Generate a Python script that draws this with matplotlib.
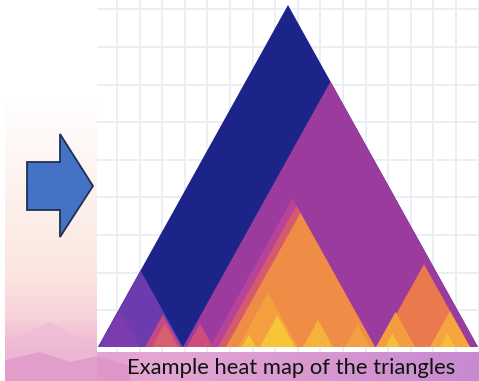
import numpy as np
import matplotlib
matplotlib.use('Agg')
import matplotlib.pyplot as plt
from matplotlib.colors import LinearSegmentedColormap
from matplotlib.patches import Polygon

W, H = 479, 381

# triangle bases along the bottom line (0..380) and their fill colours, drawn in order
tri_left = [0, 85, 0, 2, 47, 54, 89, 112, 120, 128, 140, 162, 205, 144, 247, 280, 278, 332, 287, 342]
tri_right = [380, 380, 85, 42, 83, 80, 115, 277, 277, 277, 200, 197, 235, 158, 272, 372, 317, 372, 302, 357]
tri_color = ['#1c2389', '#9c3b9e', '#6c3bad', '#7d3cae', '#c54a84', '#d6606e', '#cf4d7a',
             '#b8449a', '#d45a6c', '#ef8d47', '#f4a040', '#f7c636', '#f5b23c', '#f7c236',
             '#f3a042', '#ea7a4e', '#f39c42', '#f5a540', '#f7bd3a', '#f7bd3a']
K = 1.8  # apex height / half base

caption = 'Example heat map of the triangles'


def main():
    fig = plt.figure(figsize=(W / 100, H / 100), dpi=100)

    # background: slide gradient, mountains, arrow
    bg = fig.add_axes([0, 0, 1, 1])
    bg.set_xlim(0, W)
    bg.set_ylim(H, 0)
    bg.axis('off')

    vert = LinearSegmentedColormap.from_list('bg', [
        (0.0, '#ffffff'), (0.26, '#ffffff'), (0.5, '#fdf2ee'), (0.72, '#fbe6df'),
        (0.84, '#f7d0da'), (0.92, '#eeb2d2'), (1.0, '#dc8cc4')])
    grad = np.linspace(0, 1, H)[:, None] * np.ones((1, W))
    bg.imshow(grad, cmap=vert, extent=(5, W, H, 0), aspect='auto', zorder=0)

    horiz = LinearSegmentedColormap.from_list('strip', ['#e69fca', '#e3a6d4', '#d798d0', '#c68bd0'])
    bg.imshow(np.linspace(0, 1, W)[None, :], cmap=horiz, extent=(5, W, H, 350),
              aspect='auto', zorder=1)

    bg.add_patch(Polygon([(5, 345), (25, 333), (50, 322), (78, 338), (97, 343), (97, 381), (5, 381)],
                         closed=True, facecolor='#f0bcd8', edgecolor='none', alpha=0.8, zorder=2))
    bg.add_patch(Polygon([(5, 360), (40, 352), (70, 362), (97, 356), (130, 366), (130, 381), (5, 381)],
                         closed=True, facecolor='#dc8ec4', edgecolor='none', alpha=0.6, zorder=2))

    arrow = [(27, 162), (60, 162), (60, 134), (93, 186), (60, 237), (60, 210), (27, 210)]
    bg.add_patch(Polygon(arrow, closed=True, facecolor='#4472c4', edgecolor='#1f3050',
                         linewidth=1.3, zorder=3))

    bg.text(291, 368, caption, ha='center', va='center', fontsize=15.8,
            family='Lato', color='#111111', zorder=4)

    # the triangle heat map itself
    ax = fig.add_axes([97 / W, 29 / H, 382 / W, 352 / H])
    ax.set_facecolor('white')
    ax.set_xlim(-1, 381)
    ax.set_ylim(-5, 347)
    ax.set_xticks(np.arange(19, 381, 22.6))
    ax.set_yticks(np.arange(337.6, 0, -37.6))
    ax.grid(True, color='#eceef6', linewidth=1.4)
    ax.set_axisbelow(True)
    ax.tick_params(length=0, labelbottom=False, labelleft=False)
    for s in ax.spines.values():
        s.set_visible(False)

    for a, b, c in zip(tri_left, tri_right, tri_color):
        mid = (a + b) / 2
        ax.fill([a, mid, b], [0, K * (b - a) / 2, 0], color=c, linewidth=0, zorder=2)

    fig.savefig('out.png', dpi=100)


if __name__ == '__main__':
    main()
